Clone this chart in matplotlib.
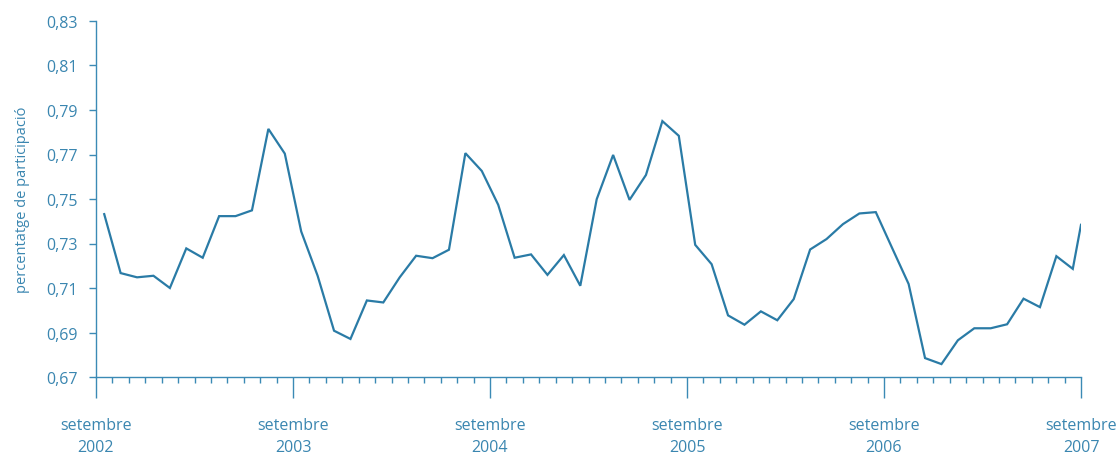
import numpy as np
import matplotlib
matplotlib.use("Agg")
import matplotlib.pyplot as plt
from matplotlib.ticker import MultipleLocator, FixedLocator

# ---- data ----
participation = [
    0.7432, 0.7167, 0.7148, 0.7155, 0.7100, 0.7278, 0.7236, 0.7423, 0.7423, 0.7449,
    0.7815, 0.7704, 0.7354, 0.7155, 0.6908, 0.6871, 0.7044, 0.7035, 0.7148, 0.7245,
    0.7234, 0.7272, 0.7706, 0.7626, 0.7474, 0.7236, 0.7251, 0.7159, 0.7248, 0.7110,
    0.7499, 0.7698, 0.7496, 0.7608, 0.7850, 0.7784, 0.7294, 0.7207, 0.6977, 0.6935,
    0.6995, 0.6955, 0.7050, 0.7273, 0.7320, 0.7387, 0.7435, 0.7441, 0.7279, 0.7118,
    0.6785, 0.6758, 0.6865, 0.6919, 0.6919, 0.6937, 0.7052, 0.7014, 0.7243, 0.7186,
    0.7384,
]
# month offsets from September 2002 (mid-month points, last one at period end)
month_offsets = list(np.arange(60) + 0.5) + [60.0]
year_labels = ["setembre\n2002", "setembre\n2003", "setembre\n2004",
               "setembre\n2005", "setembre\n2006", "setembre\n2007"]
year_ticks = [0, 12, 24, 36, 48, 60]
y_ticks = [0.67, 0.69, 0.71, 0.73, 0.75, 0.77, 0.79, 0.81, 0.83]
y_label = "percentatge de participació"

line_color = "#2a7ba6"
axis_color = "#3b8ab5"
text_color = "#3a86b0"

plt.rcParams["font.family"] = ["Open Sans", "DejaVu Sans"]

fig = plt.figure(figsize=(11.18, 4.56), dpi=100)
ax = fig.add_axes([96 / 1118, 1 - 378 / 456, (1081 - 96) / 1118, (378 - 22) / 456])

ax.plot(month_offsets, participation, color=line_color, lw=1.6, solid_joinstyle="miter")

ax.set_xlim(0, 60)
ax.set_ylim(0.67, 0.83)
ax.set_yticks(y_ticks)
ax.set_yticklabels([f"{v:.2f}".replace(".", ",") for v in y_ticks])
ax.xaxis.set_major_locator(FixedLocator(year_ticks))
ax.set_xticklabels(year_labels)
ax.xaxis.set_minor_locator(MultipleLocator(1))

for s in ["top", "right"]:
    ax.spines[s].set_visible(False)
for s in ["left", "bottom"]:
    ax.spines[s].set_color(axis_color)
    ax.spines[s].set_linewidth(1.0)

ax.tick_params(axis="y", colors=axis_color, labelcolor=text_color, length=5, width=1,
               labelsize=11.5, pad=8)
ax.tick_params(axis="x", which="major", colors=axis_color, labelcolor=text_color,
               length=15, width=1, labelsize=11.5, pad=14)
ax.tick_params(axis="x", which="minor", colors=axis_color, length=4.5, width=1)
for lab in ax.get_xticklabels():
    lab.set_linespacing(1.45)

ax.set_ylabel(y_label, color=text_color, fontsize=10.5, labelpad=12)
ax.yaxis.set_label_coords(-0.067, 0.5)

fig.savefig("out.png", dpi=100)
